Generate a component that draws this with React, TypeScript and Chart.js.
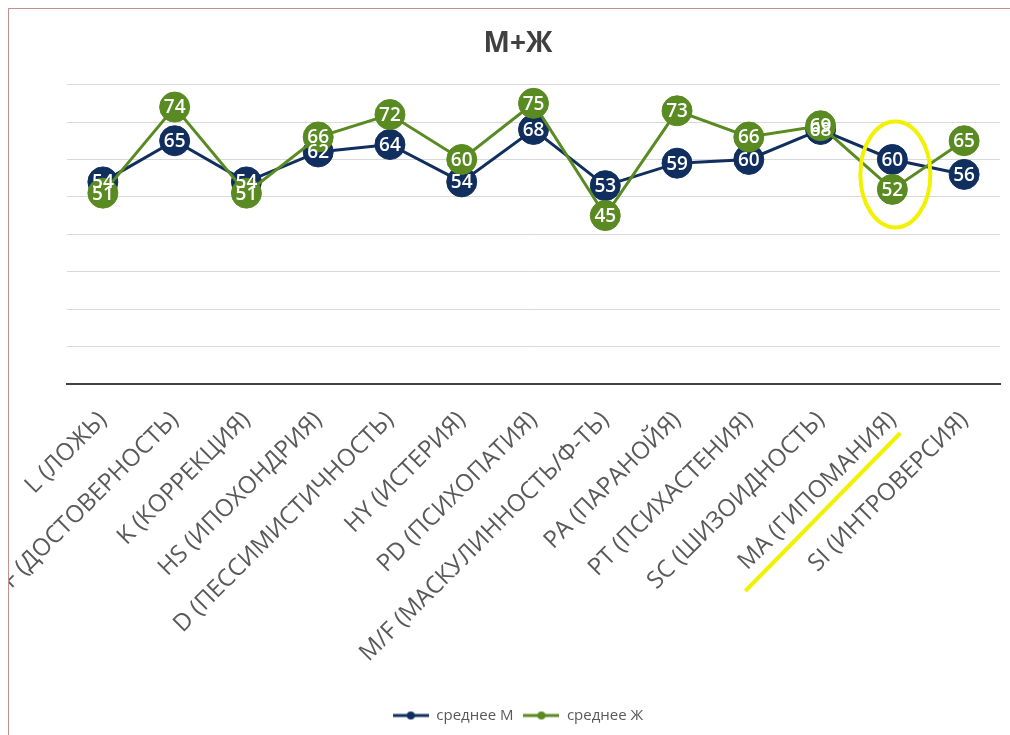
import React, { useEffect, useRef } from "react";
import { Chart, registerables } from "chart.js";

Chart.register(...registerables);

// ---- data ----
const categories = [
  "L (ЛОЖЬ)",
  "F (ДОСТОВЕРНОСТЬ)",
  "K (КОРРЕКЦИЯ)",
  "HS (ИПОХОНДРИЯ)",
  "D (ПЕССИМИСТИЧНОСТЬ)",
  "HY (ИСТЕРИЯ)",
  "PD (ПСИХОПАТИЯ)",
  "M/F (МАСКУЛИННОСТЬ/Ф-ТЬ)",
  "PA (ПАРАНОЙЯ)",
  "PT (ПСИХАСТЕНИЯ)",
  "SC (ШИЗОИДНОСТЬ)",
  "MA (ГИПОМАНИЯ)",
  "SI (ИНТРОВЕРСИЯ)",
];
const meanM = [54, 65, 54, 62, 64, 54, 68, 53, 59, 60, 68, 60, 56];
const meanF = [51, 74, 51, 66, 72, 60, 75, 45, 73, 66, 69, 52, 65];
const seriesNames = ["среднее М", "среднее Ж"];
const chartTitle = "М+Ж";
const yMin = 0;
const yMax = 80;
const yStep = 10;
const highlightIndex = 11; // MA (ГИПОМАНИЯ)

// ---- styles ----
const NAVY = "#112f5e";
const GREEN = "#5a8a22";
const FONT = "'Open Sans', 'DejaVu Sans', sans-serif";

function makeLegendIcon(color: string): HTMLCanvasElement {
  const c = document.createElement("canvas");
  c.width = 36;
  c.height = 10;
  const g = c.getContext("2d")!;
  g.strokeStyle = color;
  g.lineWidth = 3;
  g.beginPath();
  g.moveTo(0, 5);
  g.lineTo(36, 5);
  g.stroke();
  g.fillStyle = color;
  g.beginPath();
  g.arc(18, 5, 4, 0, Math.PI * 2);
  g.fill();
  return c;
}

const circleLabels = {
  id: "circleLabels",
  afterDatasetsDraw(chart: any) {
    const ctx = chart.ctx;
    ctx.save();
    ctx.font = `600 19px ${FONT}`;
    ctx.fillStyle = "#ffffff";
    ctx.textAlign = "center";
    ctx.textBaseline = "middle";
    chart.data.datasets.forEach((ds: any, i: number) => {
      const meta = chart.getDatasetMeta(i);
      meta.data.forEach((pt: any, j: number) => {
        ctx.fillText(String(ds.data[j]), pt.x, pt.y + 1);
      });
    });
    ctx.restore();
  },
};

const highlight = {
  id: "highlight",
  afterDraw(chart: any) {
    const ctx = chart.ctx;
    const xs = chart.scales.x;
    const ys = chart.scales.y;
    const cx = xs.getPixelForValue(highlightIndex);
    const v1 = meanM[highlightIndex];
    const v2 = meanF[highlightIndex];
    const cy = ys.getPixelForValue((v1 + v2) / 2);
    ctx.save();
    ctx.strokeStyle = "#f2f200";
    ctx.lineWidth = 4;
    ctx.beginPath();
    ctx.ellipse(cx + 3, cy, 35, 53, 0, 0, Math.PI * 2);
    ctx.stroke();
    // underline of the axis label
    const base = xs.top;
    ctx.beginPath();
    ctx.moveTo(cx + 8, base + 49);
    ctx.lineTo(cx - 147, base + 207);
    ctx.stroke();
    ctx.restore();
  },
};

export default function App() {
  const ref = useRef<HTMLCanvasElement>(null);

  useEffect(() => {
    if (!ref.current) return;
    const icons = [makeLegendIcon(NAVY), makeLegendIcon(GREEN)];
    const chart = new Chart(ref.current, {
      type: "line",
      data: {
        labels: categories,
        datasets: [
          {
            label: seriesNames[0],
            data: meanM,
            borderColor: NAVY,
            backgroundColor: NAVY,
            borderWidth: 3,
            pointRadius: 15,
            pointHoverRadius: 15,
            pointBackgroundColor: NAVY,
            pointBorderColor: NAVY,
            pointBorderWidth: 1,
            order: 1,
          },
          {
            label: seriesNames[1],
            data: meanF,
            borderColor: GREEN,
            backgroundColor: GREEN,
            borderWidth: 3,
            pointRadius: 15,
            pointHoverRadius: 15,
            pointBackgroundColor: GREEN,
            pointBorderColor: GREEN,
            pointBorderWidth: 1,
            order: 0,
          },
        ],
      },
      options: {
        responsive: false,
        animation: false,
        devicePixelRatio: 1,
        layout: { padding: { left: 16, right: 5, top: 0, bottom: 2 } },
        plugins: {
          tooltip: { enabled: false },
          title: {
            display: true,
            text: chartTitle,
            color: "#404040",
            font: { family: FONT, size: 28, weight: "bold" },
            padding: { top: 18, bottom: 24 },
          },
          legend: {
            display: true,
            position: "bottom",
            labels: {
              color: "#595959",
              font: { family: FONT, size: 15 },
              usePointStyle: true,
              pointStyleWidth: 36,
              padding: 10,
              generateLabels: (ch: any) =>
                ch.data.datasets.map((ds: any, i: number) => ({
                  text: ds.label,
                  pointStyle: icons[i],
                  fillStyle: ds.borderColor,
                  strokeStyle: ds.borderColor,
                  lineWidth: 0,
                  hidden: false,
                  datasetIndex: i,
                  fontColor: "#595959",
                })),
            },
          },
        },
        scales: {
          x: {
            offset: true,
            grid: { display: false, drawTicks: false },
            border: { display: true, color: "#404040", width: 2 },
            ticks: {
              autoSkip: false,
              maxRotation: 45,
              minRotation: 45,
              padding: 22,
              color: "#595959",
              font: { family: FONT, size: 24 },
            },
            afterFit: (scale: any) => {
              scale.height = 314;
              scale.paddingLeft = 0;
              scale.paddingRight = 0;
            },
          },
          y: {
            min: yMin,
            max: yMax,
            ticks: { display: false, stepSize: yStep },
            border: { display: false },
            grid: {
              drawTicks: false,
              color: (c: any) => (c.tick && c.tick.value === 0 ? "rgba(0,0,0,0)" : "#d9d9d9"),
              lineWidth: 1,
            },
            afterFit: (scale: any) => {
              scale.width = 42;
            },
          },
        },
      },
      plugins: [circleLabels, highlight],
    });
    return () => chart.destroy();
  }, []);

  return (
    <div
      style={{
        position: "fixed",
        left: 8,
        top: 8,
        width: 1001,
        height: 726,
        borderLeft: "1px solid #c48f8f",
        borderTop: "1px solid #c48f8f",
        background: "#ffffff",
        overflow: "hidden",
      }}
    >
      <canvas ref={ref} width={1007} height={726} style={{ display: "block" }} />
    </div>
  );
}
